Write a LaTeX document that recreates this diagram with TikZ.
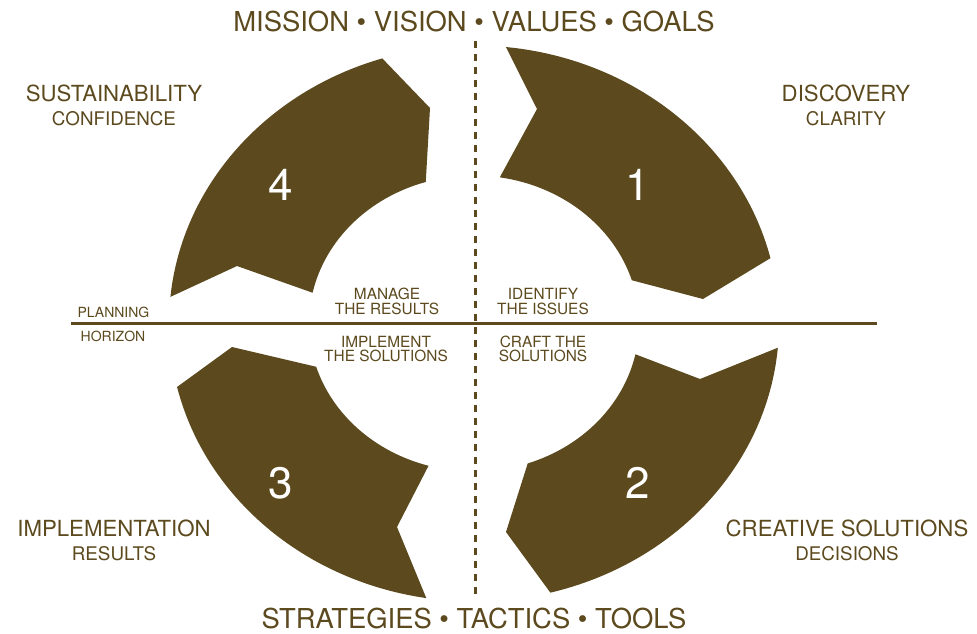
\documentclass[tikz,border=0pt]{standalone}
\usepackage{fontspec}
\setmainfont{TeX Gyre Heros}
\usepackage{xcolor}
\definecolor{umber}{RGB}{92,74,30}

\begin{document}
\begin{tikzpicture}[
  x=0.5pt, y=0.5pt,
  segment/.style={fill=umber, draw=none},
  num/.style={text=white, font=\fontsize{22}{24}\selectfont},
  heading/.style={text=umber, font=\fontsize{13.7}{16}\selectfont},
  phase/.style={text=umber, font=\fontsize{11.1}{13}\selectfont},
  outcome/.style={text=umber, font=\fontsize{9.4}{11}\selectfont},
  tag/.style={
    text=umber,
    font=\fontsize{7.7}{7.2}\selectfont,
    align=center,
    inner sep=0pt,
  },
  axis/.style={umber, line width=1.5pt},
]

\useasboundingbox (-474,-309.5) rectangle (503,323.5);
\fill[white] (-474,-309.5) rectangle (503,323.5);

% Arrow segments
\fill[segment] (84:305 and 278) arc[start angle=84, end angle=13.6, x radius=305, y radius=278]
  -- (229,24.5) -- (17:165 and 148) arc[start angle=17, end angle=81, x radius=165, y radius=148]
  -- (63,214.5) -- cycle;
\fill[segment] (-5:305 and 278) arc[start angle=-5, end angle=-75.5, x radius=305, y radius=278]
  -- (32,-208.5) -- (-71:165 and 148) arc[start angle=-71, end angle=-12, x radius=165, y radius=148]
  -- (226,-55.5) -- cycle;
\fill[segment] (193.2:305 and 278) arc[start angle=193.2, end angle=261, x radius=305, y radius=278]
  -- (-77,-203.5) -- (254:165 and 148) arc[start angle=254, end angle=197, x radius=165, y radius=148]
  -- (-242,-23.5) -- cycle;
\fill[segment] (174.5:305 and 278) arc[start angle=174.5, end angle=107.5, x radius=305, y radius=278]
  -- (-44,215.5) -- (107:165 and 148) arc[start angle=107, end angle=168, x radius=165, y radius=148]
  -- (-237,57.5) -- cycle;

% Axes
\coordinate (hl) at (-403,0);
\coordinate (hr) at (403,0);
\coordinate (vt) at (1.5,282.5);
\coordinate (vb) at (1.5,-275.5);
\draw[axis] (hl) -- (hr);
\draw[umber, line width=1.2pt, dash pattern=on 3.5pt off 3pt] (vt) -- (vb);

% Numbers
\node[num] (n1) at (164,138.5) {1};
\node[num] (n2) at (164,-159.5) {2};
\node[num] (n3) at (-193,-159.5) {3};
\node[num] (n4) at (-193,138.5) {4};

% Headings
\node[heading] (top) at (0,301.5) {MISSION \textbullet\ VISION \textbullet\ VALUES \textbullet\ GOALS};
\node[heading] (bottom) at (0,-294.5) {STRATEGIES \textbullet\ TACTICS \textbullet\ TOOLS};

% Corner labels
\node[phase] (sust) at (-360,230.5) {SUSTAINABILITY};
\node[outcome] (conf) at (-360,204.5) {CONFIDENCE};
\node[phase] (disc) at (372,230.5) {DISCOVERY};
\node[outcome] (clar) at (372,204.5) {CLARITY};
\node[phase] (impl) at (-360,-204.5) {IMPLEMENTATION};
\node[outcome] (res) at (-360,-230.5) {RESULTS};
\node[phase] (crea) at (373,-204.5) {CREATIVE SOLUTIONS};
\node[outcome] (deci) at (373,-230.5) {DECISIONS};

% Centre labels
\node[tag] (manage) at (-87,22) {MANAGE\\THE RESULTS};
\node[tag] (identify) at (69,22) {IDENTIFY\\THE ISSUES};
\node[tag] (implement) at (-88,-25.5) {IMPLEMENT\\THE SOLUTIONS};
\node[tag] (craft) at (69,-25.5) {CRAFT THE\\SOLUTIONS};
\node[tag, font=\fontsize{7}{8}\selectfont] (plan) at (-360.5,11) {PLANNING};
\node[tag, font=\fontsize{7}{8}\selectfont] (hor) at (-361,-12.5) {HORIZON};

\end{tikzpicture}
\end{document}
